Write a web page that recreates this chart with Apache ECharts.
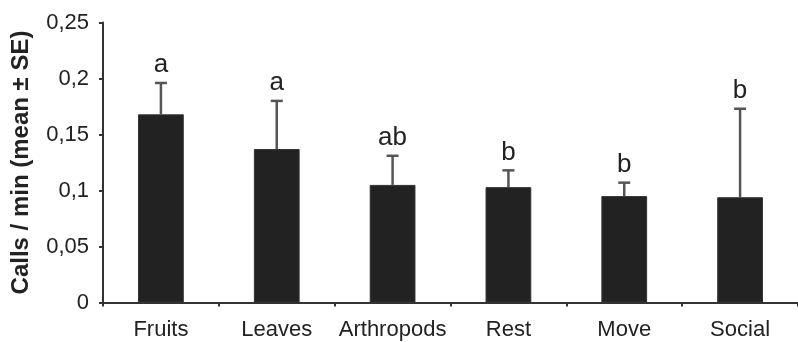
<!DOCTYPE html>
<html>
<head>
<meta charset="utf-8">
<script src="https://cdn.jsdelivr.net/npm/echarts@6/dist/echarts.min.js"></script>
<style>
  html, body { margin: 0; padding: 0; background: #fff; }
  #chart { width: 798px; height: 342px; }
</style>
</head>
<body>
<div id="chart"></div>
<script>
// Call rate per activity (mean ± SE), with significance-group letters
const categories = ['Fruits', 'Leaves', 'Arthropods', 'Rest', 'Move', 'Social'];
const meanRate = [0.168, 0.137, 0.105, 0.103, 0.095, 0.094];
const seRate = [0.028, 0.043, 0.026, 0.015, 0.012, 0.079];
const groupLetters = ['a', 'a', 'ab', 'b', 'b', 'b'];
const yTickLabels = ['0', '0,05', '0,1', '0,15', '0,2', '0,25'];

const FONT = '"Liberation Sans", Arial, Helvetica, sans-serif';
const INK = '#222';

const errorData = categories.map((c, i) => [i, meanRate[i], meanRate[i] + seRate[i]]);

const chart = echarts.init(document.getElementById('chart'), null, { renderer: 'canvas' });

chart.setOption({
  backgroundColor: '#fff',
  animation: false,
  grid: { left: 103, right: -4, top: 22.5, bottom: 39.5, containLabel: false },
  xAxis: {
    type: 'category',
    data: categories,
    axisLine: { lineStyle: { color: '#333', width: 2 } },
    axisTick: { show: true, length: 4, lineStyle: { color: '#333', width: 2 } },
    axisLabel: { color: INK, fontFamily: FONT, fontSize: 22, margin: 16, interval: 0 }
  },
  yAxis: {
    type: 'value',
    min: 0,
    max: 0.25,
    interval: 0.05,
    name: 'Calls / min (mean ± SE)',
    nameLocation: 'middle',
    nameGap: 70,
    nameTextStyle: { color: INK, fontFamily: FONT, fontSize: 24, fontWeight: 'bold' },
    splitLine: { show: false },
    axisLine: { show: true, lineStyle: { color: '#333', width: 2 } },
    axisTick: { show: true, length: 4, lineStyle: { color: '#333', width: 2 } },
    axisLabel: {
      color: INK, fontFamily: FONT, fontSize: 22, margin: 14,
      formatter: v => yTickLabels[Math.round(v / 0.05)]
    }
  },
  series: [
    {
      type: 'bar',
      data: meanRate,
      barWidth: '39.5%',
      itemStyle: { color: '#222', borderColor: '#333', borderWidth: 1 },
      z: 2
    },
    {
      type: 'custom',
      data: errorData,
      z: 3,
      renderItem(params, api) {
        const i = api.value(0);
        const base = api.coord([i, api.value(1)]);
        const tip = api.coord([i, api.value(2)]);
        const half = 6;
        const stroke = { stroke: '#555', lineWidth: 2.5 };
        return {
          type: 'group',
          children: [
            { type: 'line', shape: { x1: base[0], y1: base[1], x2: tip[0], y2: tip[1] }, style: stroke },
            { type: 'line', shape: { x1: tip[0] - half, y1: tip[1], x2: tip[0] + half, y2: tip[1] }, style: stroke },
            {
              type: 'text',
              x: tip[0],
              y: tip[1] - 5,
              style: {
                text: groupLetters[i],
                fill: INK,
                font: '26px ' + FONT,
                align: 'center',
                verticalAlign: 'bottom'
              }
            }
          ]
        };
      }
    }
  ]
});
</script>
</body>
</html>
